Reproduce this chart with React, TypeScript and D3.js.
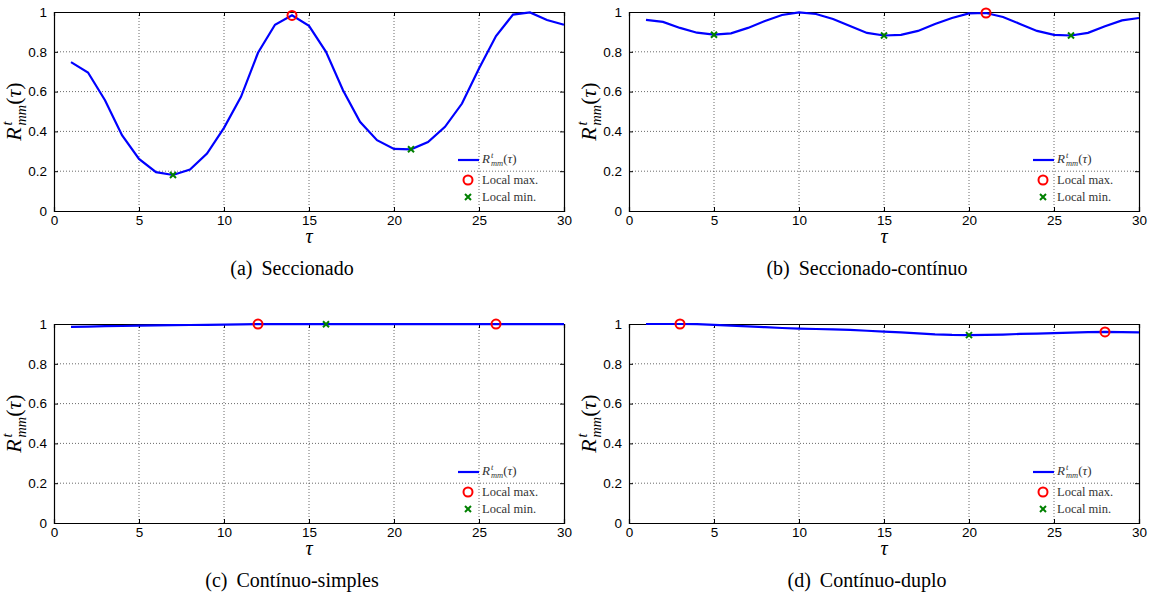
import React, { useEffect, useRef } from 'react';
import * as d3 from 'd3';

// lag values tau = 1..30
const taus = [1, 2, 3, 4, 5, 6, 7, 8, 9, 10, 11, 12, 13, 14, 15, 16, 17, 18, 19, 20, 21, 22, 23, 24, 25, 26, 27, 28, 29, 30];

const seccionado = [0.748, 0.696, 0.557, 0.381, 0.262, 0.195, 0.181, 0.208, 0.289, 0.418, 0.574, 0.795, 0.936, 0.983, 0.930, 0.800, 0.607, 0.448, 0.356, 0.312, 0.310, 0.347, 0.423, 0.540, 0.716, 0.879, 0.987, 0.998, 0.960, 0.936];
const seccionadoContinuo = [0.960, 0.950, 0.920, 0.896, 0.886, 0.893, 0.920, 0.955, 0.985, 0.998, 0.990, 0.965, 0.930, 0.895, 0.882, 0.885, 0.905, 0.940, 0.970, 0.993, 0.995, 0.975, 0.940, 0.905, 0.885, 0.882, 0.895, 0.928, 0.958, 0.970];
const continuoSimples = [0.986, 0.987, 0.989, 0.990, 0.992, 0.993, 0.994, 0.995, 0.996, 0.997, 0.998, 0.9995, 0.9993, 0.9992, 0.9991, 0.9990, 0.9991, 0.9992, 0.9993, 0.9994, 0.9994, 0.9995, 0.9995, 0.9995, 0.9995, 0.9996, 0.9995, 0.9995, 0.9995, 0.9995];
const continuoDuplo = [1.0, 1.0, 1.0, 0.999, 0.996, 0.992, 0.988, 0.984, 0.980, 0.977, 0.975, 0.973, 0.970, 0.966, 0.962, 0.958, 0.953, 0.948, 0.945, 0.944, 0.945, 0.947, 0.950, 0.952, 0.954, 0.957, 0.959, 0.960, 0.959, 0.958];

// tau of the marked local maxima / minima
const secMax = [14];
const secMin = [7, 21];
const secContMax = [21];
const secContMin = [5, 15, 26];
const simplesMax = [12, 26];
const simplesMin = [16];
const duploMax = [3, 28];
const duploMin = [20];

const xTicks = [0, 5, 10, 15, 20, 25, 30];
const yTicks = [0, 0.2, 0.4, 0.6, 0.8, 1];
const captionTags = ['(a)', '(b)', '(c)', '(d)'];
const captionTitles = ['Seccionado', 'Seccionado-contínuo', 'Contínuo-simples', 'Contínuo-duplo'];
const legendLabels = ['Local max.', 'Local min.'];

const W = 1154;
const H = 597;
const plotW = 510;
const plotH = 199;
const serif = '"Liberation Serif", "DejaVu Serif", serif';
const sans = '"Liberation Sans", Arial, sans-serif';

// writes R^t_mm(tau) into a text element
const formula = (text, size) => {
  const small = size * 0.65;
  text.style('font-family', serif).style('font-size', `${size}px`);
  text.append('tspan').style('font-style', 'italic').text('R');
  text.append('tspan').style('font-style', 'italic').style('font-size', `${small}px`)
    .attr('dx', size * 0.08).attr('dy', -size * 0.4).text('t');
  text.append('tspan').style('font-style', 'italic').style('font-size', `${small}px`)
    .attr('dx', -small * 0.28).attr('dy', size * 0.62).text('mm');
  text.append('tspan').attr('dy', -size * 0.22).text('(');
  text.append('tspan').style('font-style', 'italic').text('τ');
  text.append('tspan').text(')');
};

const App = () => {
  const ref = useRef(null);

  useEffect(() => {
    const svg = d3.select(ref.current);
    svg.selectAll('*').remove();
    svg.append('rect').attr('width', W).attr('height', H).attr('fill', '#fff');

    const panels = [
      { values: seccionado, maxT: secMax, minT: secMin, left: 54, top: 12 },
      { values: seccionadoContinuo, maxT: secContMax, minT: secContMin, left: 629, top: 12 },
      { values: continuoSimples, maxT: simplesMax, minT: simplesMin, left: 54, top: 324 },
      { values: continuoDuplo, maxT: duploMax, minT: duploMin, left: 629, top: 324 },
    ];

    panels.forEach((p, i) => {
      const g = svg.append('g').attr('transform', `translate(${p.left},${p.top})`);
      const x = d3.scaleLinear().domain([0, 30]).range([0, plotW]);
      const y = d3.scaleLinear().domain([0, 1]).range([plotH, 0]);

      // dotted grid
      g.selectAll('.gx').data(xTicks.slice(1, -1)).enter().append('line')
        .attr('x1', d => x(d)).attr('x2', d => x(d)).attr('y1', 0).attr('y2', plotH)
        .attr('stroke', '#444').attr('stroke-width', 0.8).attr('stroke-dasharray', '1,2');
      g.selectAll('.gy').data(yTicks.slice(1, -1)).enter().append('line')
        .attr('y1', d => y(d)).attr('y2', d => y(d)).attr('x1', 0).attr('x2', plotW)
        .attr('stroke', '#444').attr('stroke-width', 0.8).attr('stroke-dasharray', '1,2');

      // axes, ticks pointing inward on all sides
      const bottom = g.append('g').attr('transform', `translate(0,${plotH})`)
        .call(d3.axisBottom(x).tickValues(xTicks).tickSize(-4).tickPadding(4).tickFormat(d => String(d)));
      const left = g.append('g')
        .call(d3.axisLeft(y).tickValues(yTicks).tickSize(-4).tickPadding(7).tickFormat(d => String(d)));
      g.append('g').call(d3.axisTop(x).tickValues(xTicks).tickSize(-4).tickFormat(() => ''));
      g.append('g').attr('transform', `translate(${plotW},0)`)
        .call(d3.axisRight(y).tickValues(yTicks).tickSize(-4).tickFormat(() => ''));
      g.selectAll('.domain').attr('stroke', '#000').attr('stroke-width', 1.2);
      [bottom, left].forEach(a => a.selectAll('text')
        .style('font-family', sans).style('font-size', '13.5px').attr('fill', '#000'));

      // curve
      const line = d3.line().x((d, k) => x(taus[k])).y(d => y(d));
      g.append('path').datum(p.values).attr('d', line)
        .attr('fill', 'none').attr('stroke', '#0000ff').attr('stroke-width', 2.2);

      // markers
      g.selectAll('.mx').data(p.maxT).enter().append('circle')
        .attr('cx', t => x(t)).attr('cy', t => y(p.values[taus.indexOf(t)]))
        .attr('r', 4.5).attr('fill', 'none').attr('stroke', '#ff0000').attr('stroke-width', 2);
      g.selectAll('.mn').data(p.minT).enter().append('path')
        .attr('transform', t => `translate(${x(t)},${y(p.values[taus.indexOf(t)])})`)
        .attr('d', 'M-3,-3L3,3M-3,3L3,-3')
        .attr('stroke', '#008000').attr('stroke-width', 2);

      // legend
      const lg = g.append('g').attr('transform', `translate(${plotW - 106},${plotH - 51})`);
      lg.append('line').attr('x1', 0).attr('x2', 21).attr('y1', 0).attr('y2', 0)
        .attr('stroke', '#0000ff').attr('stroke-width', 2.2);
      formula(lg.append('text').attr('x', 24).attr('y', 3).attr('fill', '#333'), 13);
      lg.append('circle').attr('cx', 10).attr('cy', 20).attr('r', 4.5)
        .attr('fill', 'none').attr('stroke', '#ff0000').attr('stroke-width', 2);
      lg.append('path').attr('transform', 'translate(10,37)').attr('d', 'M-3,-3L3,3M-3,3L3,-3')
        .attr('stroke', '#008000').attr('stroke-width', 2);
      lg.selectAll('.lt').data(legendLabels).enter().append('text')
        .attr('x', 24).attr('y', (d, k) => 24 + k * 17)
        .style('font-family', serif).style('font-size', '12.5px').attr('fill', '#333')
        .text(d => d);

      // axis labels
      formula(g.append('text').attr('text-anchor', 'middle')
        .attr('transform', `translate(-33,${plotH / 2}) rotate(-90)`), 22);
      g.append('text').attr('x', plotW / 2).attr('y', plotH + 32).attr('text-anchor', 'middle')
        .style('font-family', serif).style('font-size', '20px').style('font-style', 'italic').text('τ');

      // caption
      const cap = g.append('text').attr('x', 238).attr('y', plotH + 64).attr('text-anchor', 'middle')
        .style('font-family', serif).style('font-size', '20px').attr('fill', '#000');
      cap.append('tspan').text(captionTags[i]);
      cap.append('tspan').attr('dx', 9).text(captionTitles[i]);
    });
  }, []);

  return (
    <svg ref={ref} width={W} height={H} style={{ position: 'absolute', left: 0, top: 0 }} />
  );
};

export default App;
